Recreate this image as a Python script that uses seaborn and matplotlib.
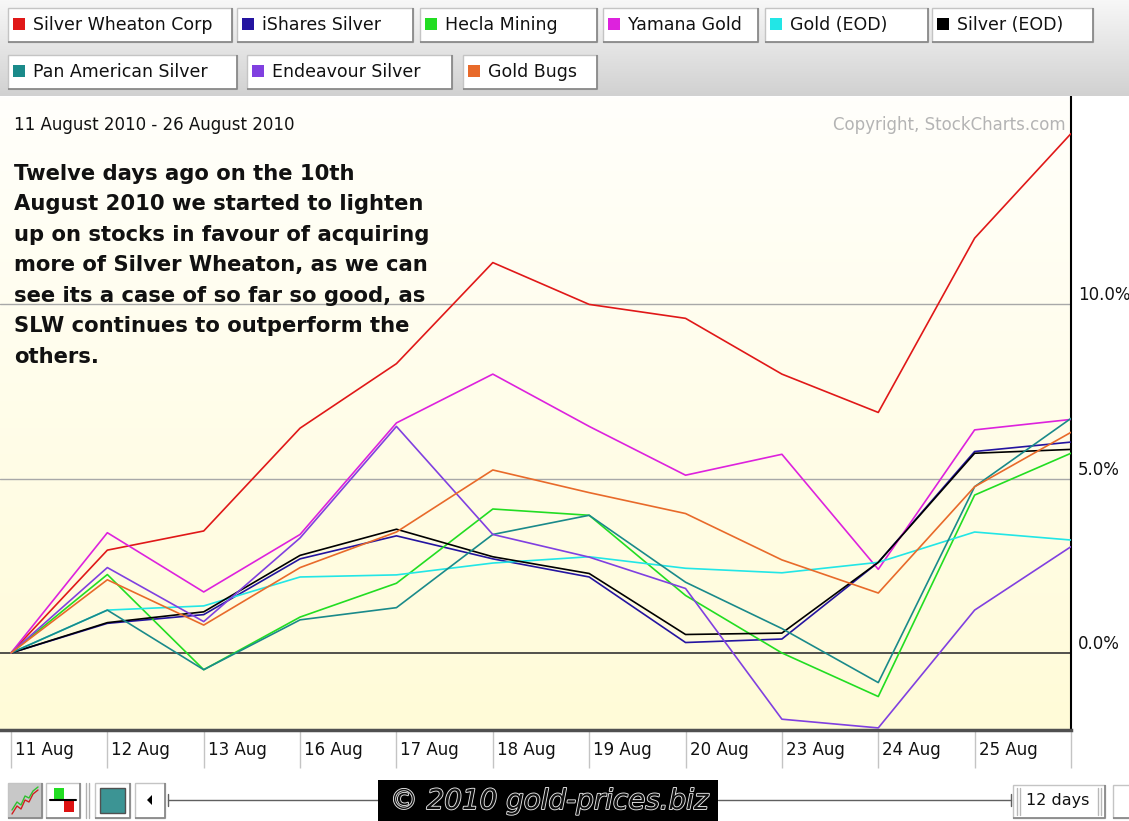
import numpy as np
import pandas as pd
import matplotlib
matplotlib.use("Agg")
import matplotlib.pyplot as plt
import seaborn as sns
from matplotlib.patches import Rectangle, Polygon
from matplotlib.transforms import ScaledTranslation
import matplotlib.patheffects as pe

# ---------------- data ----------------
dates = ['11 Aug', '12 Aug', '13 Aug', '16 Aug', '17 Aug', '18 Aug',
         '19 Aug', '20 Aug', '23 Aug', '24 Aug', '25 Aug', '26 Aug']

series_names = ['Silver Wheaton Corp', 'iShares Silver', 'Hecla Mining',
                'Yamana Gold', 'Gold (EOD)', 'Silver (EOD)',
                'Pan American Silver', 'Endeavour Silver', 'Gold Bugs']

silver_wheaton = [0, 2.95, 3.5, 6.45, 8.3, 11.2, 10.0, 9.6, 8.0, 6.9, 11.9, 14.9]
ishares_silver = [0, 0.85, 1.1, 2.7, 3.36, 2.7, 2.18, 0.3, 0.4, 2.6, 5.78, 6.05]
hecla_mining = [0, 2.25, -0.48, 1.03, 2.0, 4.13, 3.95, 1.65, 0.0, -1.25, 4.53, 5.73]
yamana_gold = [0, 3.45, 1.75, 3.4, 6.6, 8.0, 6.5, 5.1, 5.7, 2.4, 6.4, 6.7]
gold_eod = [0, 1.23, 1.35, 2.18, 2.24, 2.58, 2.76, 2.43, 2.3, 2.6, 3.47, 3.24]
silver_eod = [0, 0.87, 1.18, 2.8, 3.55, 2.76, 2.28, 0.53, 0.57, 2.6, 5.73, 5.84]
pan_american = [0, 1.23, -0.48, 0.95, 1.3, 3.4, 3.95, 2.03, 0.7, -0.85, 4.77, 6.73]
endeavour_silver = [0, 2.45, 0.9, 3.3, 6.5, 3.4, 2.75, 1.85, -1.9, -2.15, 1.23, 3.05]
gold_bugs = [0, 2.1, 0.8, 2.45, 3.47, 5.25, 4.6, 4.0, 2.67, 1.72, 4.77, 6.33]

series_values = [silver_wheaton, ishares_silver, hecla_mining, yamana_gold,
                 gold_eod, silver_eod, pan_american, endeavour_silver, gold_bugs]

series_colors = ['#e01818', '#2414a0', '#22dd22', '#dd22dd', '#22e6e6',
                 '#000000', '#1a8a8a', '#8040e0', '#e86a2a']

y_ticks = [0, 5, 10]
y_tick_labels = ['0.0%', '5.0%', '10.0%']

date_range_label = '11 August 2010 - 26 August 2010'
copyright_label = 'Copyright, StockCharts.com'
annotation_lines = ['Twelve days ago on the 10th',
                    'August 2010 we started to lighten',
                    'up on stocks in favour of acquiring',
                    'more of Silver Wheaton, as we can',
                    'see its a case of so far so good, as',
                    'SLW continues to outperform the',
                    'others.']
watermark_label = '\u00a9 2010 gold-prices.biz'
period_label = '12 days'

# ---------------- long-form table ----------------
rows = []
for name, vals in zip(series_names, series_values):
    for i, v in enumerate(vals):
        rows.append({'pos': i, 'date': dates[i], 'pct': v, 'series': name})
df = pd.DataFrame(rows)
palette = dict(zip(series_names, series_colors))

# ---------------- figure ----------------
sns.set_style('white')
plt.rcParams['font.family'] = ['DejaVu Sans']

W, H = 1129, 821
fig = plt.figure(figsize=(W / 100, H / 100), dpi=100, facecolor='white')

L, R, T, B = 0, 1071, 97, 730
ax = fig.add_axes([L / W, 1 - B / H, (R - L) / W, (B - T) / H])

# background gradient of plot area
grad = np.linspace(0, 1, 256).reshape(-1, 1)
top_c = np.array([1.0, 1.0, 0.985])
bot_c = np.array([1.0, 0.985, 0.845])
img = top_c[None, None, :] * (1 - grad[:, :, None]) + bot_c[None, None, :] * grad[:, :, None]
ax.imshow(img, extent=[0, 1, 0, 1], transform=ax.transAxes, aspect='auto', zorder=0)

ax.axhline(5, color='#a8a8a8', lw=1.0, zorder=1)
ax.axhline(10, color='#a8a8a8', lw=1.0, zorder=1)
ax.axhline(0, color='#333333', lw=1.2, zorder=1)

sns.lineplot(data=df, x='pos', y='pct', hue='series', hue_order=series_names,
             palette=palette, estimator=None, linewidth=1.2, legend=False,
             ax=ax, zorder=3)

ax.set_xlim(-0.114, len(dates) - 1)
ax.set_ylim(-2.21, 15.95)
ax.set_xlabel('')
ax.set_ylabel('')

# x axis: separators as ticks, labels to the right of each
ax.set_xticks(range(len(dates)))
ax.set_xticklabels(dates, fontsize=12, color='#111111')
ax.tick_params(axis='x', bottom=True, direction='out', length=27, width=1.0,
               color='#c4c4c4', pad=-19)
offset = ScaledTranslation(4 / 100, 0, fig.dpi_scale_trans)
for lbl in ax.get_xticklabels():
    lbl.set_ha('left')
    lbl.set_transform(lbl.get_transform() + offset)
ax.get_xticklabels()[-1].set_visible(False)

# y axis on the right, labels above gridlines
ax.yaxis.tick_right()
ax.set_yticks(y_ticks)
ax.set_yticklabels(y_tick_labels, fontsize=12, color='#111111')
ax.tick_params(axis='y', length=0, pad=5, left=False, right=True,
               labelleft=False, labelright=True)
for lbl in ax.get_yticklabels():
    lbl.set_va('bottom')

for s in ['top', 'left']:
    ax.spines[s].set_visible(False)
ax.spines['right'].set_color('#000000')
ax.spines['right'].set_linewidth(1.5)
ax.spines['bottom'].set_color('#505050')
ax.spines['bottom'].set_linewidth(2.5)

# ---------------- overlay in pixel coordinates ----------------
ov = fig.add_axes([0, 0, 1, 1])
ov.set_zorder(5)
ov.patch.set_alpha(0)

# legend band gradient
g2 = np.linspace(0, 1, 128).reshape(-1, 1)
c_top = np.array([0.97, 0.97, 0.97])
c_bot = np.array([0.82, 0.82, 0.82])
band = c_top[None, None, :] * (1 - g2[:, :, None]) + c_bot[None, None, :] * g2[:, :, None]
ov.imshow(band, extent=[0, W, 96, 0], aspect='auto', zorder=0)


def button(x0, y0, x1, y1, face='white'):
    ov.add_patch(Rectangle((x0, y0), x1 - x0, y1 - y0, facecolor=face,
                           edgecolor='#c4c4c4', lw=1.0, zorder=1))
    ov.plot([x1, x1, x0], [y0, y1, y1], color='#8a8a8a', lw=1.3, zorder=2,
            solid_capstyle='butt')


legend_rows = [
    [(8, 232), (237, 413), (420, 597), (603, 758), (765, 928), (932, 1093)],
    [(8, 237), (247, 452), (463, 597)],
]
legend_y = [(8, 42), (55, 89)]
k = 0
for r, spans in enumerate(legend_rows):
    y0, y1 = legend_y[r]
    yc = (y0 + y1) / 2
    for (x0, x1) in spans:
        button(x0, y0, x1, y1)
        ov.add_patch(Rectangle((x0 + 5, yc - 7), 12, 12,
                               facecolor=series_colors[k], edgecolor='none', zorder=3))
        ov.text(x0 + 25, yc, series_names[k], fontsize=12.5, va='center',
                ha='left', color='#111111', zorder=3)
        k += 1

# header texts
ov.text(14, 125, date_range_label, fontsize=12, va='center', ha='left',
        color='#111111')
ov.text(1066, 125, copyright_label, fontsize=12, va='center', ha='right',
        color='#b4b4b4')

for i, line in enumerate(annotation_lines):
    ov.text(14, 174 + 30.5 * i, line, fontsize=15.2, fontweight='bold',
            va='center', ha='left', color='#111111')

# bottom toolbar
button(8, 783, 42, 818, face='#c8c8c8')
ov.plot([12, 17, 21, 25, 29, 33, 38], [814, 806, 809, 800, 802, 794, 790],
        color='#d02020', lw=1.0, zorder=3)
ov.plot([12, 17, 21, 25, 29, 33, 38], [810, 802, 805, 796, 798, 791, 787],
        color='#30c030', lw=1.0, zorder=3)
button(46, 783, 80, 818)
ov.add_patch(Rectangle((54, 788), 10, 11, facecolor='#22dd22', edgecolor='none', zorder=3))
ov.add_patch(Rectangle((64, 801), 10, 11, facecolor='#dd1111', edgecolor='none', zorder=3))
ov.plot([50, 76], [800, 800], color='#000000', lw=1.5, zorder=4)
ov.plot([86, 86], [783, 818], color='#b0b0b0', lw=1.0)
ov.plot([89, 89], [783, 818], color='#b0b0b0', lw=1.0)
button(95, 783, 130, 818)
ov.add_patch(Rectangle((100, 788), 25, 25, facecolor='#3c9494',
                       edgecolor='#505050', lw=1.0, zorder=3))
button(135, 783, 165, 818)
ov.add_patch(Polygon([[147, 800], [152, 795], [152, 805]], closed=True,
                     facecolor='#000000', edgecolor='none', zorder=3))
ov.plot([168, 378], [800, 800], color='#606060', lw=1.0)
ov.plot([168, 168], [794, 806], color='#606060', lw=1.0)
ov.plot([718, 1011], [800, 800], color='#606060', lw=1.0)
ov.plot([1011, 1011], [794, 806], color='#606060', lw=1.0)
ov.add_patch(Rectangle((378, 780), 340, 41, facecolor='#000000',
                       edgecolor='none', zorder=2))
ov.text(390, 801, watermark_label, fontsize=20, fontstyle='italic',
        va='center', ha='left', color='#101010', zorder=4,
        path_effects=[pe.withStroke(linewidth=1.3, foreground='#e8e8e8')])
button(1013, 785, 1105, 818)
for xx in (1017, 1020, 1098, 1101):
    ov.plot([xx, xx], [788, 815], color='#b8b8b8', lw=1.0, zorder=3)
ov.text(1026, 801, period_label, fontsize=11.5, va='center', ha='left',
        color='#111111', zorder=4)
button(1113, 785, 1135, 818)

ov.set_xlim(0, W)
ov.set_ylim(H, 0)
ov.set_aspect('auto')
ov.axis('off')

fig.savefig('out.png', dpi=100, facecolor='white')
